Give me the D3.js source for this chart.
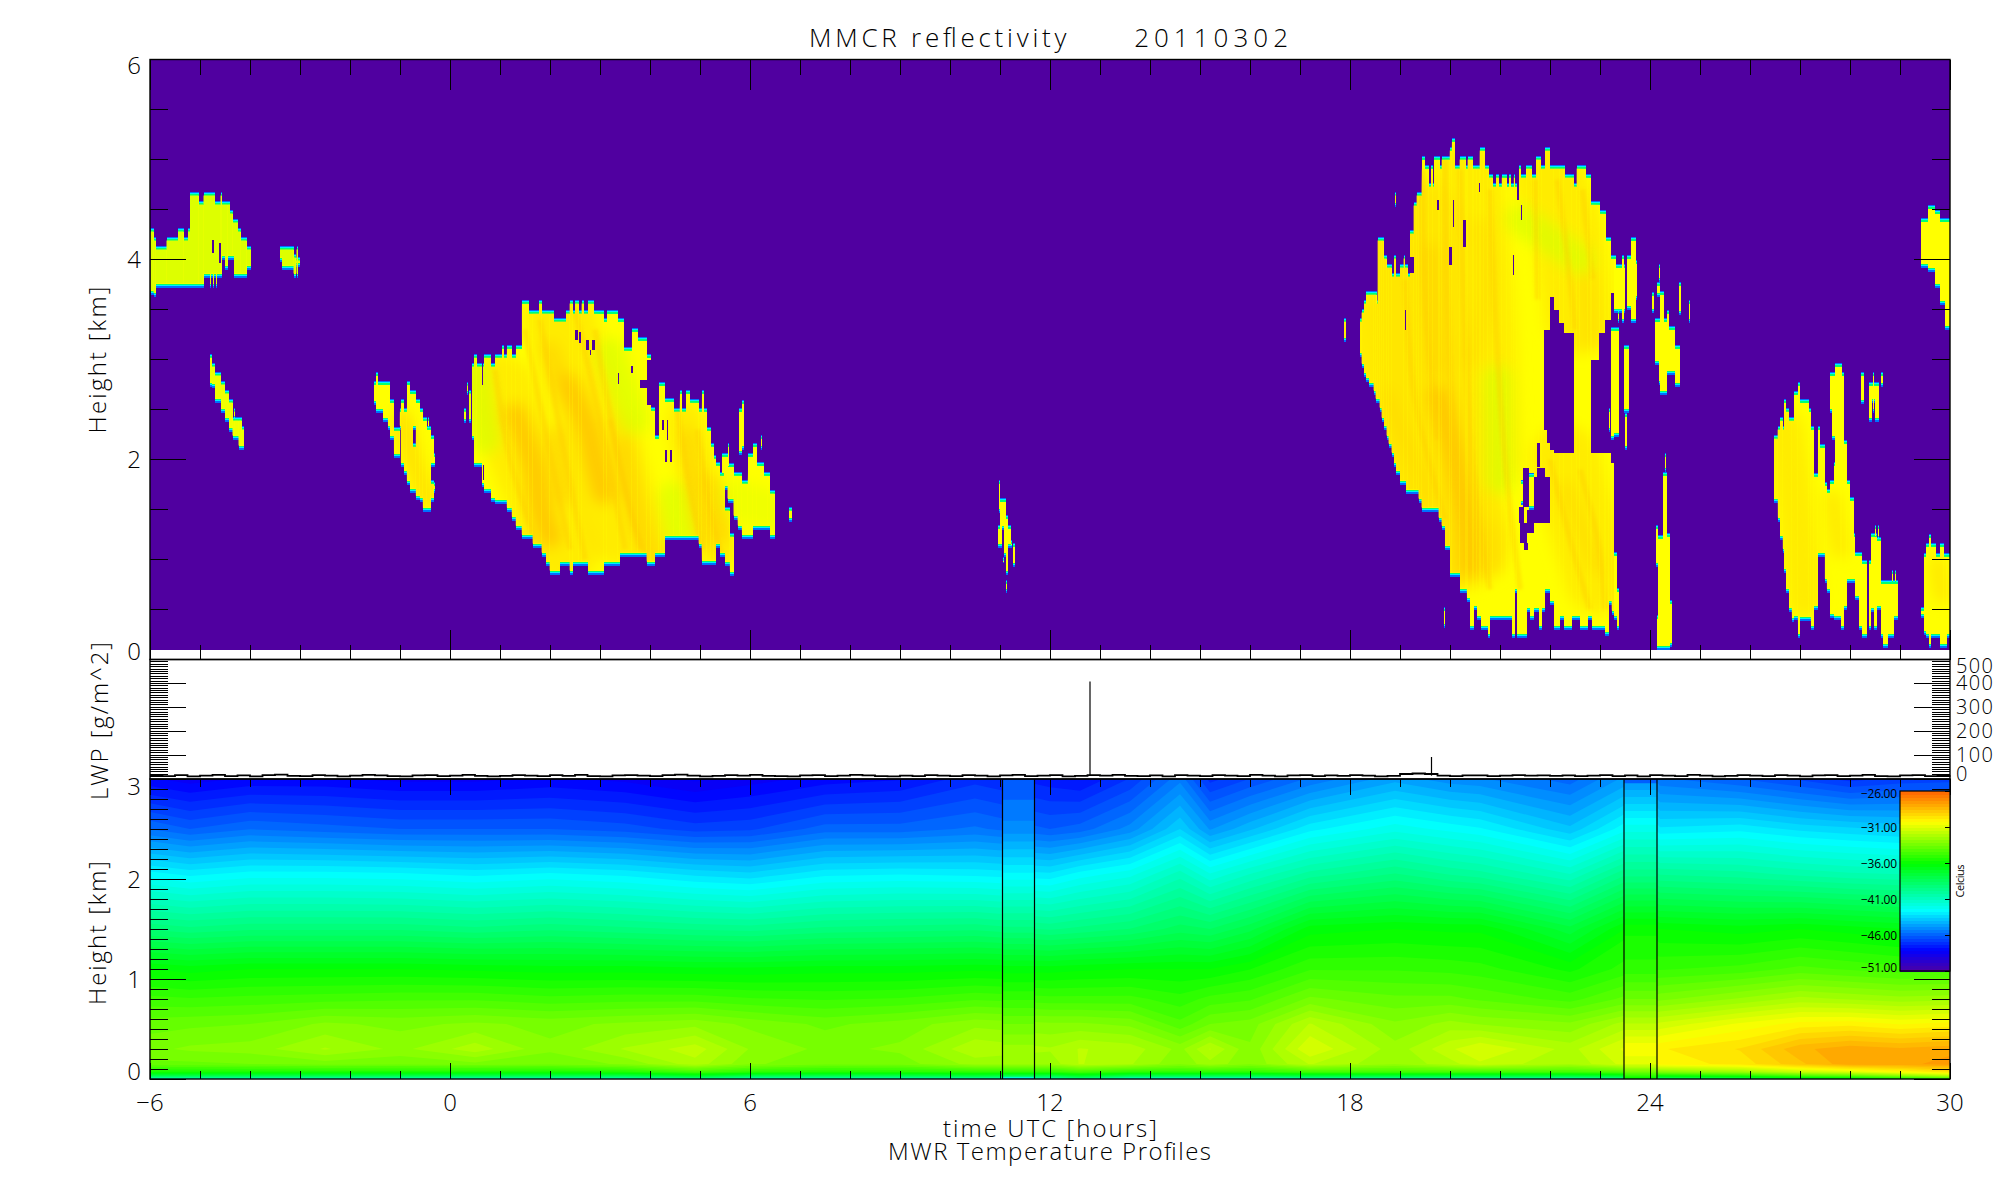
<!DOCTYPE html>
<html><head><meta charset="utf-8">
<script src="https://cdn.jsdelivr.net/npm/d3@7"></script>
<style>
html,body{margin:0;padding:0;background:#fff}
svg{display:block}
text{font-family:"Open Sans","Liberation Sans",sans-serif;font-weight:300;fill:#000;white-space:pre}
</style></head><body>
<div id="chart"></div>
<script>
// ---------- labels ----------
const titleWords = ["MMCR reflectivity ","    20110302"];
const xTitle = "time UTC [hours]";
const subTitle = "MWR Temperature Profiles";
const hourTicks = [-6,0,6,12,18,24,30];
const hourMinor = d3.range(-6,31,1);
const kmTopMajor = [0,2,4,6], kmTopMinor = d3.range(0,6.01,0.5);
const kmLowMajor = [0,1,2,3], kmLowMinor = d3.range(0,3.01,0.1);
const lwpMajor = [0,100,200,300,400,500], lwpMinor = d3.range(0,501,10);
const tempTicks = [-26,-31,-36,-41,-46,-51];

// ---------- palette stops (temperature, colour) ----------
const paletteValues = [-51,-48,-42.5,-36,-30.2,-26];
const paletteColors = ["#5000a0","#0000ff","#00ffff","#00ff00","#ffff00","#ff6400"];

// ---------- MWR temperature grid [Celsius] ----------
const tempHeights = [0,.03,.07,.15,.3,.55,.8,1.1,1.5,2.05,2.5,3];
const tempHours = [-6,-5.2,-4,-2.5,-1,.5,2,3.5,4.9,6,7.5,9,10.5,12,12.6,13.6,14.6,15.2,16,17.2,18.9,20,20.6,22.4,23.8,24.2,25.8,27,28,29,30];
const tempGrid = [
[-41,-38,-35.5,-33.6,-33.2,-33.7,-34.6,-36,-39,-42.5,-45.6,-48],
[-41,-38,-35.5,-33.6,-33,-33.6,-34.7,-36.2,-39.2,-42.8,-46,-48.3],
[-41,-38,-35.5,-33.5,-32.9,-33.5,-34.6,-36,-39,-42.5,-45.6,-48],
[-41,-38,-35.4,-33.3,-32.2,-33,-34.5,-36,-39,-42.5,-45.8,-48],
[-41,-38,-35.4,-33.4,-32.8,-33.2,-34.4,-36,-39,-42.6,-46,-48.2],
[-41,-38,-35.4,-33.2,-32,-33,-34.4,-36.1,-39.2,-42.8,-46,-48.2],
[-41,-38,-35.5,-33.4,-33,-33.2,-34.6,-36.2,-39,-42.6,-46,-48],
[-41,-38,-35.3,-33,-32.2,-33,-34.5,-36.2,-39.2,-42.8,-46.2,-48.2],
[-40,-37,-34.5,-32,-31.6,-32.8,-34.5,-36.3,-39.4,-43.2,-46.6,-48.6],
[-41,-38,-35,-33,-32.7,-33.2,-34.7,-36.3,-39.5,-43.4,-46.5,-48.3],
[-41,-38,-35.3,-33.4,-33.2,-33.6,-34.8,-36.2,-39.2,-42.8,-45.8,-47.9],
[-41,-38,-35.2,-33.3,-33,-33.3,-34.7,-36.2,-39.1,-42.7,-45.8,-47.7],
[-41,-37.5,-35,-32.5,-31.9,-32.8,-34.4,-36.1,-39,-42.8,-45.5,-47],
[-41,-38,-35,-32.5,-32.2,-33,-34.6,-36.2,-39.4,-43,-46,-47.5],
[-40,-37,-34.5,-31.8,-31.8,-33,-34.6,-36.1,-39.2,-42.5,-45.8,-47.7],
[-42,-38,-35,-32.2,-32,-33.2,-34.6,-36,-38.9,-42,-45,-46.8],
[-42,-38,-35,-33,-32.8,-34.2,-35,-36,-38.3,-40.8,-43.5,-45.3],
[-42,-38,-35,-32.4,-31.8,-33.5,-34.6,-36,-38.5,-41.8,-44.8,-47],
[-42,-38,-35,-33,-33,-33.3,-34.4,-35.6,-37.8,-41,-44,-46.4],
[-41,-37.5,-34.5,-31.8,-31,-31.8,-33.4,-34.8,-36.2,-40,-42.8,-45.5],
[-41,-37.5,-34.5,-32.6,-32.5,-33,-33.8,-34.8,-36,-39.3,-42,-44.5],
[-41,-37.5,-34.5,-32,-31.5,-32.5,-33.8,-34.9,-36.1,-39.8,-42.4,-45],
[-41,-37.5,-34.5,-31.5,-31,-32.7,-34,-35,-36.1,-40,-42.6,-45.1],
[-41,-37.5,-34.5,-32.2,-32,-33,-34.5,-35.7,-37.5,-41,-43.8,-45.8],
[-40,-37,-34,-31,-30.6,-31.8,-33.6,-34.8,-35.6,-39,-42,-44.3],
[-39,-36,-33,-30,-29.8,-31.3,-33.2,-34.8,-36,-39.8,-43,-45.5],
[-38.5,-35.5,-32.5,-29.6,-29.3,-30.5,-32.6,-34.6,-36.2,-40,-42.8,-46],
[-37.5,-34.5,-31.5,-28.6,-28.2,-30,-32.1,-34.2,-36,-40.3,-43.2,-46.5],
[-37,-34,-31,-27.8,-27.8,-29.9,-32.3,-34.4,-36.2,-40.5,-43.4,-47],
[-36,-33,-30.2,-27.8,-28,-30.2,-32.5,-34.6,-36.4,-40.6,-43.6,-46.7],
[-35,-32,-29.5,-27.5,-27.8,-30,-32.4,-34.6,-36.4,-40.6,-43.8,-46.6]];
// the two gaps in the MMCR record, bounded by vertical lines
const gapHours = [[11.05,11.69],[23.48,24.14]];
const gapProfiles = [
[-45,-38,-35,-32.5,-32.5,-33.5,-34.8,-36.2,-39.2,-42.6,-45,-46],
[-36.5,-35,-33.5,-31,-30.2,-31.8,-33.5,-35,-35.7,-39.5,-42,-45]];

// ---------- LWP [g/m^2], every quarter hour from -6 ----------
const lwpValues = [14,12,16,11,14,17,12,15,11,16,18,13,12,16,14,11,14,17,15,12,11,15,16,12,14,17,13,11,13,16,14,12,
16,13,17,12,11,15,16,14,12,16,18,14,11,13,16,14,17,13,12,11,15,16,12,14,17,15,12,11,14,12,16,14,12,16,14,11,15,17,
12,14,16,11,13,16,14,17,13,12,15,11,16,14,12,16,14,12,17,14,11,15,16,12,15,13,16,14,11,13,21,23,21,14,12,15,15,12,
14,16,14,15,13,15,12,14,16,12,15,11,16,14,12,17,14,11,13,16,14,12,16,14,11,15,16,12,14,17,12,11,15,16,12,14,15];
const lwpSpikeHours = [12.8,19.63], lwpSpikeValues = [408,92];

// ---------- MMCR cloud echo blocks [hour start, hour end, base km, top km] ----------
const cloudA = [[-5.99,-5.93,3.65,4.32],[-5.93,-5.89,3.63,4.23],[-5.89,-5.67,3.72,4.14],[-5.67,-5.44,3.72,4.23],[-5.44,-5.33,3.72,4.32],[-5.33,-5.24,3.72,4.23],[-5.24,-5.2,3.72,4.32],[-5.2,-5.03,3.72,4.68],[-5.03,-4.93,3.72,4.59],[-4.93,-4.7,3.82,4.68],[-4.7,-4.59,3.82,4.59],[-4.59,-4.57,3.82,4.68],[-4.57,-4.5,4,4.59],[-4.5,-4.45,3.9,4.59],[-4.45,-4.4,4,4.59],[-4.4,-4.35,4,4.5],[-4.35,-4.32,4,4.41],[-4.32,-4.24,3.82,4.41],[-4.24,-4.19,3.82,4.32],[-4.19,-4.07,3.82,4.23],[-4.07,-3.98,3.9,4.14],[-4.8,-4.78,3.72,3.9],[-4.74,-4.72,3.72,3.9],[-4.68,-4.66,3.72,3.9],
[-3.4,-3.36,3.98,4.14],[-3.36,-3.13,3.9,4.14],[-3.13,-3.09,3.82,4.06],[-3.07,-3.04,3.82,4.14],[-3.09,-3,3.93,4.03]];
const cloudB = [[-4.8,-4.76,2.73,3.06],[-4.76,-4.7,2.72,2.97],[-4.7,-4.58,2.57,2.88],[-4.58,-4.5,2.47,2.79],[-4.5,-4.42,2.38,2.7],[-4.42,-4.35,2.28,2.61],[-4.35,-4.31,2.2,2.43],[-4.31,-4.23,2.2,2.43],[-4.23,-4.17,2.1,2.43],[-4.17,-4.12,2.1,2.34],[-4.32,-4.31,2.4,2.52]];
const cloudC = [[-1.52,-1.48,2.55,2.79],[-1.48,-1.44,2.47,2.88],[-1.44,-1.35,2.47,2.79],[-1.34,-1.25,2.38,2.79],[-1.25,-1.2,2.3,2.79],[-1.2,-1.12,2.2,2.61],[-1.13,-1.08,2.02,2.33],[-1.08,-1.01,2.02,2.33],[-1.01,-1,2.3,2.52],[-.99,-.92,1.93,2.61],[-.92,-.87,1.85,2.52],[-.87,-.8,1.75,2.79],[-.8,-.74,1.67,2.7],[-.74,-.69,2.3,2.7],[-.74,-.69,1.67,2.17],[-.69,-.61,1.6,2.61],[-.61,-.55,1.58,2.52],[-.55,-.47,1.48,2.43],[-.47,-.39,1.48,2.34],[-.44,-.42,2.3,2.43],[-.39,-.33,1.93,2.25],[-.39,-.33,1.58,1.8],[-.33,-.3,1.93,2.07],[-.33,-.3,1.67,1.78]];
const cloudD = [[.28,.32,2.37,2.52],[.34,.36,2.65,2.78],[.38,.42,2.37,2.7],[.44,.48,2.2,2.97],[.48,.53,1.93,3.06],[.53,.63,1.93,2.97],[.63,.68,1.73,2.97],[.68,.82,1.67,3.06],[.82,.9,1.58,2.97],[.9,1.04,1.56,3.06],[1.04,1.08,1.56,3.15],[1.08,1.13,1.56,3.06],[1.13,1.23,1.48,3.15],[1.23,1.31,1.39,3.06],[1.31,1.43,1.3,3.15],[1.43,1.52,1.21,3.6],[1.52,1.57,1.21,3.6],[1.57,1.65,1.21,3.5],[1.65,1.78,1.12,3.5],[1.78,1.83,1.12,3.6],[1.83,1.92,1.03,3.5],[1.92,1.99,.94,3.5],[1.99,2.08,.85,3.5],[2.08,2.2,.85,3.42],[2.2,2.32,.94,3.42],[2.32,2.39,.94,3.5],[2.39,2.45,.85,3.6],[2.45,2.5,.94,3.5],[2.5,2.57,.94,3.6],[2.57,2.63,.94,3.5],[2.63,2.68,.94,3.6],[2.68,2.76,.94,3.5],[2.76,2.88,.85,3.6],[2.88,3.07,.85,3.5],[3.07,3.13,.94,3.42],[3.13,3.35,.94,3.5],[3.35,3.4,.94,3.42],[3.4,3.48,1.03,3.42],[3.48,3.63,1.03,3.13],[3.63,3.75,1.03,3.32],[3.75,3.93,1.03,3.23],[3.93,4.01,.94,3.06],[4.01,4.1,.94,2.53],[4.1,4.17,1.03,2.25],[4.17,4.21,1.03,2.78],[4.21,4.3,1.03,2.78],[4.3,4.47,1.2,2.62],[4.47,4.59,1.2,2.52],[4.59,4.63,1.2,2.7],[4.63,4.72,1.2,2.52],[4.72,4.8,1.2,2.7],[4.8,4.97,1.2,2.61],[4.97,5.03,1.12,2.52],[5.03,5.08,.95,2.7],[5.08,5.13,.95,2.52],[5.13,5.21,.95,2.33],[5.21,5.27,.95,2.17],[5.27,5.32,.95,2.05],[5.32,5.4,1.12,1.98],[5.4,5.5,1.03,1.88],[5.5,5.59,.94,1.53],[5.59,5.67,.84,1.27],
[5.44,5.47,1.83,2.07],[5.47,5.55,1.7,2.07],[5.55,5.67,1.57,1.97],[5.56,5.58,1.9,2.17],[5.67,5.75,1.4,1.88],[5.75,5.83,1.3,1.88],[5.83,5.95,1.21,1.8],[5.95,6.05,1.21,2.07],[6.05,6.13,1.3,2.17],[6.13,6.28,1.3,1.98],[6.28,6.35,1.3,1.88],[6.35,6.4,1.3,1.88],[6.4,6.49,1.21,1.7],[5.78,5.83,2.05,2.52],[5.83,5.88,2.1,2.6],[6.22,6.24,2.1,2.25],[6.78,6.83,1.38,1.53]];
const cloudNoon = [[10.98,11,1.47,1.8],[10.96,11,1.12,1.35],[11,11.03,1.12,1.62],[11.03,11.07,1.3,1.62],[11.07,11.12,1.03,1.62],[11.12,11.16,.85,1.45],[11.16,11.21,1.12,1.35],[11.21,11.23,1.12,1.2],[11.12,11.14,.67,.8],[11.26,11.29,.93,1.17],[11.06,11.08,.97,1.03]];
const cloudG = [[26.48,26.55,1.57,2.25],[26.55,26.6,1.38,2.34],[26.6,26.65,1.2,2.43],[26.65,26.68,1.07,2.34],[26.68,26.72,.87,2.61],[26.72,26.78,.67,2.52],[26.78,26.83,.48,2.43],[26.83,26.88,.38,2.43],[26.88,26.95,.4,2.69],[26.95,27,.22,2.78],[27,27.17,.39,2.61],[27.17,27.21,.39,2.52],[27.21,27.27,.3,2.34],[27.27,27.35,.5,1.87],[27.35,27.4,1.03,2.34],[27.4,27.49,1.03,2.16],[27.49,27.53,.77,1.78],[27.53,27.6,.67,1.71],[27.6,27.68,.42,1.8],[27.6,27.63,2.47,2.88],[27.63,27.7,2.2,2.88],[27.68,27.7,.4,1.98],[27.7,27.81,.4,2.97],[27.81,27.83,.3,2.97],[27.83,27.88,.3,2.88],[27.88,27.93,.5,2.2],[27.93,28,.77,1.8],[28,28.07,.77,1.63],[28.07,28.1,.77,1.27],[28.1,28.17,.6,1.08],[28.17,28.23,.3,1.08],[28.23,28.33,.22,1],[28.37,28.41,.3,1],[28.41,28.47,.48,1.27],[28.47,28.53,.3,1.27],[28.49,28.51,1.2,1.35],[28.56,28.58,1.2,1.35],[28.53,28.61,.5,1.23],[28.61,28.65,.22,.8],[28.65,28.75,.12,.8],[28.75,28.87,.22,.8],[28.87,28.95,.4,.8],[28.84,28.86,.75,.9],[28.9,28.92,.75,.9],
[28.22,28.28,2.56,2.88],[28.37,28.43,2.38,2.78],[28.43,28.5,2.57,2.78],[28.45,28.47,2.47,2.88],[28.5,28.58,2.38,2.78],[28.62,28.66,2.73,2.88]];
const cloudH = [[29.42,29.48,.42,.53],[29.48,29.52,.25,1.07],[29.52,29.6,.22,1.17],[29.58,29.61,.12,1.26],[29.6,29.72,.22,1.17],[29.72,29.8,.22,1.07],[29.8,29.87,.12,1.17],[29.87,29.93,.12,1.07],[29.93,30,.22,1.07],
[29.42,29.55,3.92,4.42],[29.55,29.7,3.88,4.55],[29.7,29.8,3.72,4.5],[29.8,29.9,3.55,4.42],[29.9,30,3.3,4.42]];
const cloudF = [[24.13,24.15,.1,.45],[24.12,24.15,.93,1.35],[24.15,24.25,.1,1.25],[24.25,24.33,.1,1.88],[24.33,24.39,.1,1.27],[24.39,24.43,.13,.6],[24.3,24.32,1.88,2.07],
[24.04,24.08,3.47,3.68],[24.13,24.2,3.63,3.78],[24.17,24.19,3.78,3.96],[24.1,24.17,2.95,3.42],[24.17,24.23,2.75,3.42],[24.2,24.27,2.65,3.69],[24.27,24.33,2.65,3.42],[24.33,24.37,2.85,3.5],[24.37,24.5,2.85,3.34],[24.5,24.6,2.73,3.15],[24.57,24.61,3.45,3.78],[24.77,24.8,3.37,3.6],[17.88,17.92,3.18,3.42],[18.9,18.92,4.53,4.68],[19.87,19.89,.32,.53]];
// large storm near 18-23 UTC: stepped cloud top and base envelopes [hour, km]
const stormEnd = 23.28;
const stormTops = [[18.2,3.42],[18.23,3.51],[18.28,3.6],[18.32,3.69],[18.52,3.6],[18.55,4.23],[18.67,4.05],[18.73,3.96],[18.83,3.87],[18.88,4.05],[18.92,3.87],[19,3.96],[19.07,4.05],[19.1,3.96],[19.15,3.87],[19.2,4.3],[19.27,4.58],[19.33,4.68],[19.43,5.04],[19.5,4.95],[19.57,4.77],[19.62,4.95],[19.65,4.77],[19.68,5.04],[19.79,4.95],[19.83,5.04],[19.99,5.13],[20.03,5.22],[20.1,4.95],[20.19,5.04],[20.31,4.95],[20.35,5.04],[20.45,4.95],[20.59,5.13],[20.7,4.95],[20.78,4.86],[20.85,4.77],[20.92,4.86],[20.98,4.77],[21.03,4.86],[21.13,4.77],[21.18,4.86],[21.22,4.77],[21.27,4.86],[21.3,4.77],[21.38,4.95],[21.42,4.86],[21.52,4.95],[21.63,4.86],[21.72,5.04],[21.82,4.95],[21.9,5.13],[22,4.95],[22.3,4.86],[22.48,4.77],[22.53,4.95],[22.72,4.86],[22.81,4.59],[22.99,4.5],[23.11,4.23],[23.22,4.05]];
const stormBases = [[18.2,3.03],[18.23,2.92],[18.28,2.83],[18.32,2.78],[18.38,2.73],[18.47,2.65],[18.51,2.57],[18.59,2.48],[18.63,2.38],[18.68,2.3],[18.73,2.2],[18.77,2.12],[18.83,2.03],[18.88,1.93],[18.92,1.85],[19,1.75],[19.12,1.66],[19.37,1.57],[19.43,1.48],[19.77,1.38],[19.83,1.3],[19.9,1.1],[20,.83],[20.2,.67],[20.33,.58],[20.4,.3],[20.47,.5],[20.53,.4],[20.61,.3],[20.67,.3],[20.75,.22],[20.8,.4],[21.23,.22],[21.3,.67],[21.33,.22],[21.53,.48],[21.6,.4],[21.67,.48],[21.77,.3],[21.83,.48],[21.9,.67],[22,.55],[22.07,.3],[22.19,.4],[22.27,.3],[22.43,.4],[22.59,.3],[22.75,.4],[22.83,.3],[23.09,.24],[23.17,.55],[23.23,.45]];
// echo-free pockets inside the clouds [hour start, hour end, base km, top km]
const cloudHoles = [[-4.77,-4.72,4.07,4.2],[-4.63,-4.58,3.97,4.17],
[.63,.65,2.75,2.97],[.66,.68,1.8,1.95],[2.5,2.55,3.2,3.3],[2.58,2.62,3.17,3.28],[2.72,2.78,3.1,3.2],[2.84,2.9,3.1,3.2],[2.79,2.82,3.05,3.1],[3.36,3.38,2.76,2.87],[3.62,3.66,2.87,2.94],[3.8,3.97,2.72,2.8],[3.93,4.01,2.55,3.0],[4.24,4.28,2.3,2.4],[4.3,4.33,1.98,2.1],[4.4,4.44,1.98,2.1],[4.33,4.36,2.2,2.4],
[19.73,19.78,4.5,4.6],[20.05,20.08,4.33,4.6],[20.25,20.31,4.13,4.4],[19.97,20.03,3.95,4.13],[19.2,19.28,3.87,4.03],[20.57,20.6,4.68,4.77],[21.33,21.37,4.6,4.77],[21.42,21.44,4.4,4.55],[19.1,19.12,3.3,3.5],[21.25,21.27,3.85,4.05],
[21.87,21.93,2.3,3.3],[21.93,22,2.17,3.3],[22,22.07,2.1,3.63],[22.07,22.17,2.07,3.5],[22.17,22.27,2.07,3.37],[22.27,22.47,2.07,3.27],[22.81,22.97,2.07,3],[22.97,23.1,2.07,3.27],[23.1,23.22,2.07,3.4],[23.22,23.28,1.97,3.67],
[21.37,21.47,1.37,1.53],[21.4,21.53,1.17,1.37],[21.47,21.55,1.1,1.17],[21.45,21.57,1.53,1.92],[21.53,21.67,1.27,1.5],[21.67,22,1.37,1.83],[21.73,21.9,1.83,1.92],[21.73,21.8,1.93,2.17]];
// cloud pieces that stand clear of those pockets
const cloudAfter = [[23.22,23.27,2.2,3.33],[23.27,23.37,2.23,3.33],[23.28,23.32,3.67,4.05],[23.28,23.33,.4,1.08],[23.33,23.38,.3,.72],[23.17,23.2,2.28,2.52],[23.48,23.57,2.47,3.15],[23.5,23.53,2.1,2.47],[23.28,23.5,3.47,3.96],[23.43,23.48,3.37,4.05],[23.35,23.38,3.37,3.5],[23.53,23.62,3.5,4.05],[23.62,23.71,3.37,4.23],[23.71,23.73,3.6,4],[21.41,21.45,1.55,1.8],[21.57,21.67,1.5,1.87]];
// reflectivity streaks inside the clouds [class, points as hour,km]
const streaks = [
["haze",[[1,2.7],[1.6,1.9],[2.3,1.1]]],
["haze",[[2.2,3.4],[2.8,2.4],[3.4,1.3]]],
["hazeSmall",[[3.4,2.3],[3.7,1.7],[4.1,1.1]]],
["hazeSmall",[[4.7,2.4],[5.1,1.6],[5.4,1.1]]],
["hazeWide",[[19.3,4.3],[19.5,2.9],[20.2,1.2]]],
["haze",[[20.35,4.8],[20.6,3.4],[20.7,2]]],
["haze",[[22,4.8],[22.3,4.4],[22.6,3.4]]],
["haze",[[22.3,2],[22.7,1.3],[23,.8]]],
["haze",[[18.5,3.3],[18.9,2.5],[19.4,1.9]]],
["hazeSmall",[[26.7,2.3],[26.95,1.4],[27.1,.6]]],
["weak",[[-6,4],[-5.2,4.05],[-4.6,4.3],[-4.1,4]]],
["weak",[[-3.4,4.02],[-3,4]]],
["soft",[[-4.7,2.8],[-4.2,2.25]]],
["mid",[[-.95,2.4],[-.7,1.95],[-.45,1.6]]],
["weakSmall",[[.5,2.9],[.7,2.2]]],
["weakSmall",[[3.2,3.07],[3.7,2.4]]],
["weakSmall",[[4.47,1.63],[4.6,1.25]]],
["soft",[[5.7,1.6],[6.4,1.5]]],
["strong",[[1.3,2.45],[1.67,1.93],[1.8,1.53],[2,1.23]]],
["strong",[[2.35,2.75],[2.73,2.33],[2.93,1.93],[3.07,1.67]]],
["mid",[[2.0,3.1],[2.2,2.8]]],
["mid",[[2.13,2.23],[2.27,1.63]]],
["mid",[[3.47,2.13],[3.6,1.73],[3.8,1.33],[4.07,1.03]]],
["mid",[[4.73,2.23],[4.93,1.63],[5.13,1.17]]],
["mid",[[5.2,1.77],[5.47,1.27]]],
["mid",[[19.63,4.07],[19.7,3.33],[19.77,2.9]]],
["strong",[[19.77,2.63],[20.07,2.07],[20.33,1.4],[20.4,.93]]],
["thin",[[18.73,2.63],[19.2,2.1],[19.6,1.63]]],
["thin",[[20.6,4.33],[20.7,3.7],[20.45,3.0]]],
["thin",[[20.73,1.3],[20.93,.93]]],
["thin",[[22.33,1.7],[22.93,.93]]],
["thin",[[22.73,3.8],[22.8,3.2]]],
["weakSmall",[[21.4,4.4],[22,4.2],[22.6,4]]],
["weakSmall",[[20.95,2.8],[21,1.8]]],
["thin",[[27.65,1.6],[27.8,1.1]]],
["thin",[[29.75,.95],[29.85,.65]]]];
const streakStyles = {strong:["#ffbe00",.7,24],mid:["#ffd000",.6,20],thin:["#ffd800",.55,18],haze:["#ffe600",.75,70],hazeSmall:["#ffe600",.75,36],hazeWide:["#ffe000",.8,100],weak:["#ddff00",1,110],weakSmall:["#d8ff00",.7,30],soft:["#f0ff00",1,40]};
// fine fall streaks inside the two big echoes [points as hour,km]
const fineStreaks = [
[[.9,2.9],[1.2,2],[1.7,1.2]],[[1.5,3.3],[1.9,2.3],[2.4,1.1]],[[1.8,3.4],[2.2,2.3],[2.7,1]],[[2.5,3.5],[3,2.4],[3.5,1.1]],[[2.9,3.3],[3.3,2.2],[3.8,1.1]],[[3.2,2.4],[3.6,1.5],[3.95,1]],[[4.55,2.5],[4.8,1.7],[5.05,1.1]],[[4.95,2.3],[5.2,1.5],[5.45,1]],
[[19.45,4.9],[19.5,3.6],[19.75,2.2]],[[19.9,5],[19.95,3.5],[20.15,1.8],[20.45,.9]],[[20.2,4.9],[20.3,3.3],[20.5,1.7],[20.8,.7]],[[19.1,3.8],[19.3,2.6],[19.9,1.4]],[[20.8,4.7],[20.9,3.5],[21.1,2],[21.4,.7]],[[21.7,4.8],[21.75,3.6]],[[22.15,4.8],[22.4,3.8],[22.5,3.3]],[[22.65,4.7],[22.85,3.8]],[[22,2],[22.4,1.2],[22.8,.5]],[[22.6,1.9],[22.95,1.2],[23.1,.5]]];

// ---------- layout ----------
const width=2000, height=1200;
const left=150, right=1950;
const x = d3.scaleLinear().domain([-6,30]).range([left,right]);
const yTop = d3.scaleLinear().domain([0,6]).range([659.5,59.5]);
const yLwp = d3.scaleLinear().domain([0,500]).range([779,659.5]);
const yLow = d3.scaleLinear().domain([0,3]).range([1079,779]);
const purple = paletteColors[0];
const svg = d3.select("#chart").append("svg").attr("width",width).attr("height",height);
const defs = svg.append("defs");
defs.append("clipPath").attr("id","clipTop").append("rect").attr("x",left).attr("y",yTop(6)).attr("width",right-left).attr("height",590.5);
defs.append("clipPath").attr("id","clipLow").append("rect").attr("x",left).attr("y",yLow(3)).attr("width",right-left).attr("height",300);
[["soft",7],["fine",1.5]].forEach(([id,s])=>{
  defs.append("filter").attr("id",id).attr("filterUnits","userSpaceOnUse").attr("x",0).attr("y",0).attr("width",width).attr("height",height)
    .append("feGaussianBlur").attr("stdDeviation",s);
});

// ---------- top panel ----------
const topG = svg.append("g").attr("clip-path","url(#clipTop)");
topG.append("rect").attr("x",left).attr("y",yTop(6)).attr("width",right-left).attr("height",590.5).attr("fill",purple);

function stormBlocks(){
  const cuts = Array.from(new Set([...stormTops.map(d=>d[0]),...stormBases.map(d=>d[0]),stormEnd])).sort((a,b)=>a-b);
  const tH=stormTops.map(d=>d[0]), bH=stormBases.map(d=>d[0]);
  const out=[];
  for(let i=0;i<cuts.length-1;i++){
    const t=stormTops[Math.max(0,d3.bisectRight(tH,cuts[i])-1)][1];
    const b=stormBases[Math.max(0,d3.bisectRight(bH,cuts[i])-1)][1];
    out.push([cuts[i],cuts[i+1],b,t]);
  }
  return out;
}
const rim = [["#0070ff",0],["#00f0ff",.013],["#00ff70",.026],["#ffff00",.04]];
function drawBlocks(g,blocks,layers){
  layers.forEach(([col,inset])=>{
    g.append("g").attr("shape-rendering","crispEdges").selectAll("rect").data(blocks).join("rect")
      .attr("x",d=>x(d[0])).attr("width",d=>Math.max(1,x(d[1])-x(d[0])))
      .attr("y",d=>yTop(d[3]-inset)).attr("height",d=>Math.max(1,yTop(d[2]+inset)-yTop(d[3]-inset)))
      .attr("fill",col);
  });
}
const allBlocks = [...cloudA,...cloudB,...cloudC,...cloudD,...cloudNoon,...stormBlocks(),...cloudG,...cloudH,...cloudF];
drawBlocks(topG,allBlocks,rim);
// streaks clipped to the cloud cores
const coreClip = defs.append("clipPath").attr("id","clipCore");
coreClip.selectAll("rect").data(allBlocks).join("rect")
  .attr("x",d=>x(d[0])).attr("width",d=>x(d[1])-x(d[0]))
  .attr("y",d=>yTop(d[3]-.04)).attr("height",d=>Math.max(0,yTop(d[2]+.04)-yTop(d[3]-.04)));
const streakLine = d3.line().x(d=>x(d[0])).y(d=>yTop(d[1])).curve(d3.curveCatmullRom);
const coreG = topG.append("g").attr("clip-path","url(#clipCore)");
coreG.append("g").attr("filter","url(#soft)")
  .selectAll("path").data(streaks).join("path")
  .attr("d",d=>streakLine(d[1])).attr("fill","none").attr("stroke-linecap","round")
  .attr("stroke",d=>streakStyles[d[0]][0]).attr("stroke-opacity",d=>streakStyles[d[0]][1]).attr("stroke-width",d=>streakStyles[d[0]][2]);
coreG.append("g").attr("filter","url(#fine)")
  .selectAll("path").data(fineStreaks).join("path")
  .attr("d",streakLine).attr("fill","none").attr("stroke","#ffcc00").attr("stroke-opacity",.4).attr("stroke-width",6);
topG.append("g").attr("shape-rendering","crispEdges").selectAll("rect").data(cloudHoles).join("rect")
  .attr("x",d=>x(d[0])).attr("width",d=>Math.max(1,x(d[1])-x(d[0])))
  .attr("y",d=>yTop(d[3])).attr("height",d=>yTop(d[2])-yTop(d[3])).attr("fill",purple);
drawBlocks(topG,cloudAfter,rim);

// ---------- lower panel: temperature contours ----------
const level = d3.range(-51,-26,25/60);
const tempColor = d3.scaleLinear().domain(paletteValues).range(paletteColors).clamp(true);
const lowG = svg.append("g").attr("clip-path","url(#clipLow)");
function drawField(parent,hours,heights,columns){
  const n=hours.length,m=heights.length,vals=new Array(n*m);
  for(let j=0;j<m;j++)for(let i=0;i<n;i++)vals[j*n+i]=columns[i][j];
  const xi=d3.scaleLinear().domain(d3.range(n)).range(hours);
  const yi=d3.scaleLinear().domain(d3.range(m)).range(heights);
  const proj=d3.geoTransform({point(a,b){this.stream.point(x(xi(a-.5)),yLow(yi(b-.5)));}});
  const path=d3.geoPath(proj);
  const lo=d3.min(vals);
  parent.append("g").selectAll("path").data(d3.contours().size([n,m]).thresholds(level.filter(t=>t>lo))(vals)).join("path")
    .attr("d",path).attr("fill",d=>tempColor(d.value+25/120));
}
lowG.append("rect").attr("x",left).attr("y",yLow(3)).attr("width",right-left).attr("height",300).attr("fill",tempColor(-48));
drawField(lowG,tempHours,tempHeights,tempGrid);
gapHours.forEach((g,i)=>{
  const id="gap"+i;
  defs.append("clipPath").attr("id",id).append("rect").attr("x",x(g[0])).attr("y",yLow(3)).attr("width",x(g[1])-x(g[0])).attr("height",300);
  const holder=lowG.append("g").attr("clip-path",`url(#${id})`);
  holder.append("rect").attr("x",x(g[0])).attr("y",yLow(3)).attr("width",x(g[1])-x(g[0])).attr("height",300).attr("fill",tempColor(-46));
  drawField(holder,g,tempHeights,[gapProfiles[i],gapProfiles[i]]);
});
// gap edges
svg.append("g").selectAll("line").data(gapHours.flat()).join("line")
  .attr("x1",d=>x(d)).attr("x2",d=>x(d)).attr("y1",yLow(3)).attr("y2",yLow(0)).attr("stroke","#000").attr("stroke-width",1.2);

// ---------- LWP ----------
const lwpPoints = lwpValues.map((v,i)=>[-6+i*.25,v]);
const lwpLine = d3.line().x(d=>x(d[0])).y(d=>yLwp(d[1])).curve(d3.curveStepAfter);
svg.append("path").attr("d",lwpLine(lwpPoints)).attr("fill","none").attr("stroke","#000").attr("stroke-width",1.8);
svg.append("g").selectAll("line").data(lwpSpikeHours).join("line")
  .attr("x1",d=>x(d)).attr("x2",d=>x(d)).attr("y1",yLwp(14)).attr("y2",(d,i)=>yLwp(lwpSpikeValues[i])).attr("stroke","#000").attr("stroke-width",1.2);

// ---------- axes ----------
function tick(axis,scale,values,size,tx,ty){
  const g=svg.append("g").attr("transform",`translate(${tx},${ty})`).attr("shape-rendering","crispEdges")
    .call(d3[axis](scale).tickValues(values).tickSize(size).tickFormat("").offset(0));
  g.select(".domain").remove();
  g.selectAll("line").attr("stroke","#000").attr("stroke-width",1);
}
const onlyMinor=(all,maj)=>all.filter(v=>!maj.some(m=>Math.abs(m-v)<1e-6));
[[yTop,kmTopMajor,kmTopMinor],[yLwp,lwpMajor,lwpMinor],[yLow,kmLowMajor,kmLowMinor]].forEach(([s,maj,min])=>{
  tick("axisLeft",s,onlyMinor(min,maj),-18,left,0);
  tick("axisLeft",s,maj,-36,left,0);
  tick("axisRight",s,onlyMinor(min,maj),-18,right,0);
  tick("axisRight",s,maj,-36,right,0);
});
const minorH=onlyMinor(hourMinor,hourTicks);
tick("axisTop",x,minorH,-15,0,yTop(6)); tick("axisTop",x,hourTicks,-30,0,yTop(6));
tick("axisBottom",x,minorH,-15,0,yTop(0)); tick("axisBottom",x,hourTicks,-30,0,yTop(0));
tick("axisTop",x,minorH,-8,0,yLow(3)); tick("axisTop",x,hourTicks,-16,0,yLow(3));
tick("axisBottom",x,minorH,-8,0,yLow(0)); tick("axisBottom",x,hourTicks,-16,0,yLow(0));
// frames
[[yTop(6),yTop(0)],[yTop(0),yLwp(0)],[yLwp(0),yLow(0)]].forEach(([a,b])=>{
  svg.append("rect").attr("x",left).attr("y",a).attr("width",right-left).attr("height",b-a).attr("fill","none").attr("stroke","#000").attr("stroke-width",1.4);
});

// ---------- colour bar ----------
const barX=1900, barW=50, barTop=791, barBot=971;
const yBar=d3.scaleLinear().domain([-51,-26]).range([barBot,barTop]);
svg.append("g").attr("shape-rendering","crispEdges").selectAll("rect").data(level).join("rect")
  .attr("x",barX).attr("width",barW).attr("y",d=>yBar(d+25/60)).attr("height",d=>yBar(d)-yBar(d+25/60)+.5).attr("fill",d=>tempColor(d+25/120));
svg.append("rect").attr("x",barX).attr("y",barTop).attr("width",barW).attr("height",barBot-barTop).attr("fill","none").attr("stroke","#000").attr("stroke-width",1.2);
tick("axisRight",yBar,tempTicks,-5,barX+barW,0);
const fmtTemp=d=>"\u2212"+Math.abs(d).toFixed(2);
svg.append("g").selectAll("text").data(tempTicks).join("text")
  .text(fmtTemp).attr("x",1897).attr("y",d=>yBar(d)+(d===-26?7:d===-51?1:4.5))
  .attr("text-anchor","end").attr("font-size",12).attr("textLength",36).attr("lengthAdjust","spacing").style("font-weight",400);
svg.append("text").text("Celcius").attr("transform","translate(1964,881) rotate(-90)")
  .attr("text-anchor","middle").attr("font-size",11).attr("textLength",33).style("font-weight",400);

// ---------- text ----------
function label(txt,px,py,size,anchor,len,rot){
  const t=svg.append("text").text(txt).attr("font-size",size).attr("text-anchor",anchor||"middle")
    .attr("transform",`translate(${px},${py})`+(rot?` rotate(${rot})`:""));
  if(len)t.attr("textLength",len).attr("lengthAdjust","spacing");
  return t;
}
const title=svg.append("text").attr("y",47).attr("font-size",26);
title.append("tspan").attr("x",809).attr("textLength",268).text(titleWords[0]);
title.append("tspan").attr("x",1087).attr("textLength",201).text(titleWords[1]);
label(xTitle,1050,1137,24,"middle",214);
label(subTitle,1049.5,1160,24,"middle",323);
label("Height [km]",106,360,24,"middle",147,-90);
label("LWP [g/m^2]",108,721,24,"middle",158,-90);
label("Height [km]",106,933,24,"middle",144,-90);
hourTicks.forEach(h=>label(h<0?"\u2212"+Math.abs(h):String(h),x(h),1111,24));
kmTopMajor.forEach(v=>label(String(v),141,yTop(v)+8.5+(v===6?6:v===0?-8:0),24,"end"));
kmLowMajor.forEach(v=>label(String(v),141,yLow(v)+8.5+(v===3?7:v===0?-8:0),24,"end"));
lwpMajor.forEach(v=>label(String(v),1956,yLwp(v)+7+(v===500?6:v===0?-5:0),20,"start",v===0?null:37));
</script>
</body></html>
